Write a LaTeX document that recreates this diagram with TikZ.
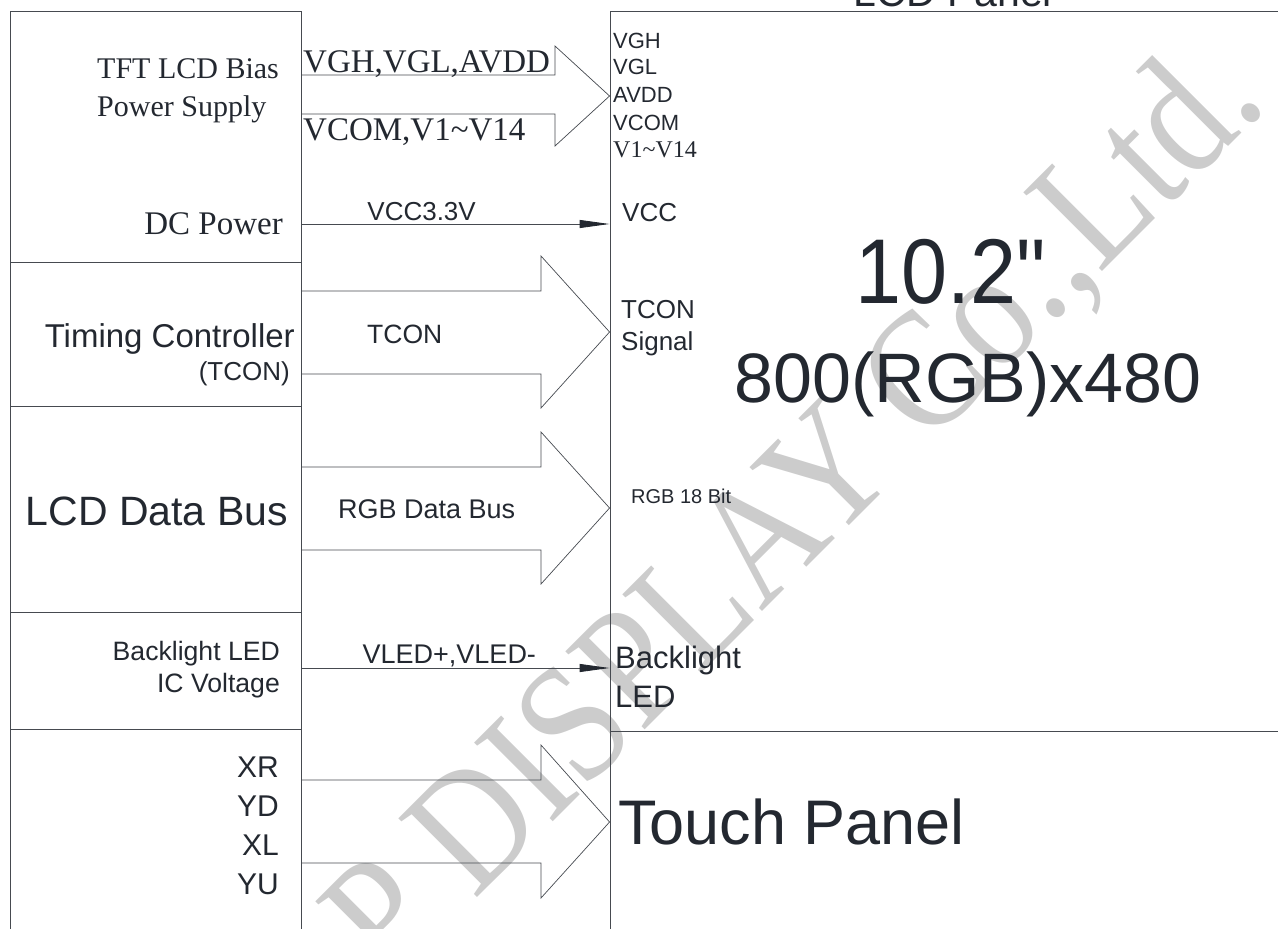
\documentclass[tikz,border=0pt]{standalone}
\usepackage{fontspec}
\setmainfont{Liberation Serif}
\newfontfamily\arialf{Liberation Sans}
\usetikzlibrary{positioning,arrows.meta}
\definecolor{ink}{RGB}{35,40,48}
\definecolor{rule}{RGB}{70,74,80}
\definecolor{wmark}{RGB}{204,204,204}
\newcommand\fsz[1]{\fontsize{#1}{#1}\selectfont}

\begin{document}
\begin{tikzpicture}[x=1pt,y=-1pt,
  blk/.style={draw=rule,line width=0.9pt,minimum width=291pt,inner sep=0pt},
  pnl/.style={draw=rule,line width=0.9pt,minimum width=680pt,inner sep=0pt},
  sig/.style={draw=rule,line width=0.9pt,-{Triangle[length=30pt,width=8pt,color=ink]}},
  fat/.style={draw=rule,line width=0.7pt},
  sans/.style={text=ink,inner sep=0pt,font=\arialf\fsz{#1}},
  serif/.style={text=ink,inner sep=0pt,font=\fsz{#1}}]
\useasboundingbox (0,0) rectangle (1278,929);

% watermark
\node[rotate=45,xscale=0.86,text=wmark,font=\fsz{170},inner sep=0pt] (wm) at (798,512) {P DISPLAY Co.,Ltd.};

% left column
\node[blk,minimum height=251pt] (pwr) at (155.5,136.5) {};
\node[blk,minimum height=144pt] (tcon) at (155.5,334) {};
\node[blk,minimum height=206pt] (bus) at (155.5,509) {};
\node[blk,minimum height=117pt] (led) at (155.5,670.5) {};
\node[blk,minimum height=230pt] (tp) at (155.5,844) {};
% panel
\node[pnl,minimum height=720pt] (lcd) at (950,371) {};
\node[pnl,minimum height=230pt] (tpl) at (950,846) {};

\node[serif=30,anchor=base west] (biasa) at (97,78) {TFT LCD Bias};
\node[serif=30,anchor=base west] (biasb) at (97,116) {Power Supply};
\node[serif=33,anchor=base east] (dcp) at (283,234) {DC Power};
\node[sans=33,anchor=base east] (tca) at (295,347) {Timing Controller};
\node[sans=26,anchor=base east] (tcb) at (290,380) {(TCON)};
\node[sans=41,anchor=base east] (bust) at (288,525) {LCD Data Bus};
\node[sans=26.6,anchor=base east] (leda) at (280,660) {Backlight LED};
\node[sans=26.6,anchor=base east] (ledb) at (280,692) {IC Voltage};
\node[sans=30,anchor=base east] (xr) at (279,777) {XR};
\node[sans=30,anchor=base east] (yd) at (279,816) {YD};
\node[sans=30,anchor=base east] (xl) at (279,855) {XL};
\node[sans=30,anchor=base east] (yu) at (279,894) {YU};

% bias block arrow
\draw[fat] (pwr.east |- 0,75) -- (555,75) -- (555,46) -- (lcd.west |- 0,96)
  -- (555,146) -- (555,114) -- (pwr.east |- 0,114);
\node[serif=33,anchor=base west] (vga) at (303,72) {VGH,VGL,AVDD};
\node[serif=33,anchor=base west] (vgb) at (303,140) {VCOM,V1\textasciitilde V14};

% dc
\coordinate (vccy) at (0,224);
\draw[sig] (pwr.east |- vccy) -- (lcd.west |- vccy)
  node[sans=26,anchor=base,pos=0.39,yshift=4pt] (vcct) {VCC3.3V};

% tcon
\draw[fat] (tcon.east |- 0,291) -- (541,291) -- (541,256) -- (lcd.west |- 0,332)
  -- (541,408) -- (541,374) -- (tcon.east |- 0,374);
\node[sans=26.5,anchor=base west] (tcl) at (367,343) {TCON};

% rgb
\draw[fat] (bus.east |- 0,467) -- (541,467) -- (541,432) -- (lcd.west |- 0,508)
  -- (541,584) -- (541,550) -- (bus.east |- 0,550);
\node[sans=27,anchor=base west] (rgbl) at (338,518) {RGB Data Bus};

% backlight
\coordinate (ledy) at (0,668);
\draw[sig] (led.east |- ledy) -- (lcd.west |- ledy)
  node[sans=27,anchor=base,pos=0.48,yshift=5pt] (vled) {VLED+,VLED-};

% touch
\draw[fat] (tp.east |- 0,780) -- (541,780) -- (541,745) -- (tpl.west |- 0,822)
  -- (541,898) -- (541,863) -- (tp.east |- 0,863);

% panel texts
\node[sans=22,anchor=base west] (pvgh) at (613,48) {VGH};
\node[sans=22,anchor=base west] (pvgl) at (613,74) {VGL};
\node[sans=22,anchor=base west] (pavdd) at (613,102) {AVDD};
\node[sans=22,anchor=base west] (pvcom) at (613,130) {VCOM};
\node[serif=24,anchor=base west] (pvv) at (613,157) {V1\textasciitilde V14};
\node[sans=26,anchor=base west] (pvcc) at (622,221) {VCC};
\node[sans=26,anchor=base west] (ptca) at (621,318) {TCON};
\node[sans=26,anchor=base west] (ptcb) at (621,350) {Signal};
\node[sans=20,anchor=base west] (prgb) at (631,503) {RGB 18 Bit};
\node[sans=31,anchor=base west] (pbla) at (615,668) {Backlight};
\node[sans=31,anchor=base west] (pblb) at (615,707) {LED};
\node[sans=92,anchor=base,xscale=0.9] (size) at (951,303) {10.2"};
\node[sans=70,anchor=base] (res) at (968,402) {800(RGB)x480};
\node[sans=63,anchor=base west] (tpt) at (618,844) {Touch Panel};
\node[sans=41,anchor=base] (lcdt) at (953,6.5) {LCD Panel};
\end{tikzpicture}
\end{document}
